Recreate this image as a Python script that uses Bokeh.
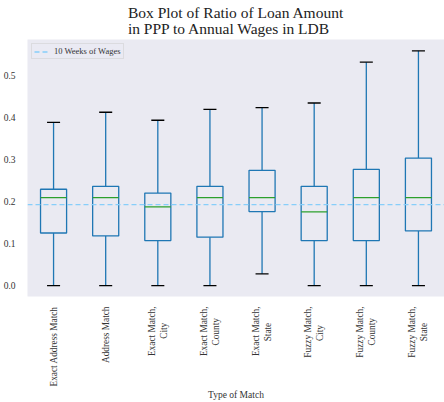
from bokeh.plotting import figure
from bokeh.models import FixedTicker, Range1d, Legend, LegendItem
from bokeh.embed import file_html
from bokeh.resources import INLINE

# Match categories (tick labels); the short second lines are padded so that
# they sit centred under the first line
categories = [
    "Exact Address Match",
    "Address Match",
    "Exact Match,\nCity" + " " * 7,
    "Exact Match,\nCounty" + " " * 5,
    "Exact Match,\nState" + " " * 7,
    "Fuzzy Match,\nCity" + " " * 8,
    "Fuzzy Match,\nCounty" + " " * 5,
    "Fuzzy Match,\nState" + " " * 7,
]

# Box statistics of loan / annual wage ratio
whisker_low = [0.0, 0.0, 0.0, 0.0, 0.028, 0.0, 0.0, 0.0]
q1 = [0.125, 0.118, 0.107, 0.115, 0.176, 0.107, 0.107, 0.130]
median = [0.209, 0.209, 0.187, 0.209, 0.209, 0.175, 0.209, 0.209]
q3 = [0.229, 0.236, 0.220, 0.236, 0.274, 0.236, 0.276, 0.303]
whisker_high = [0.388, 0.412, 0.393, 0.419, 0.423, 0.434, 0.531, 0.558]

# Ten weeks of wages as a share of annual wages
ten_weeks = 10 / 52

FONT = "Liberation Serif"
BOX = "#1f77b4"
MED = "#2ca02c"

pos = list(range(1, len(categories) + 1))
half_box = 0.25
half_cap = 0.125

p = figure(
    width=444, height=402,
    x_range=Range1d(0.5, 8.5), y_range=Range1d(-0.026, 0.585),
    output_backend="svg", toolbar_location=None,
    min_border_left=25, min_border_right=0, min_border_top=0, min_border_bottom=0,
)

p.background_fill_color = "#EAEAF2"
p.border_fill_color = "white"
p.outline_line_color = None
p.grid.grid_line_color = None

p.title.text = "Box Plot of Ratio of Loan Amount\n in PPP to Annual Wages in LDB"
p.title.align = "center"
p.title.text_font = FONT
p.title.text_font_size = "15.5px"
p.title.text_font_style = "normal"
p.title.text_color = "#222222"
p.title.standoff = 4
p.title.text_line_height = 0.95

# Whiskers
p.segment(x0=pos, y0=q3, x1=pos, y1=whisker_high, line_color=BOX, line_width=1.3)
p.segment(x0=pos, y0=whisker_low, x1=pos, y1=q1, line_color=BOX, line_width=1.3)
# Caps
p.segment(x0=[x - half_cap for x in pos], y0=whisker_high,
          x1=[x + half_cap for x in pos], y1=whisker_high, line_color="black", line_width=1.3)
p.segment(x0=[x - half_cap for x in pos], y0=whisker_low,
          x1=[x + half_cap for x in pos], y1=whisker_low, line_color="black", line_width=1.3)
# Boxes
p.quad(left=[x - half_box for x in pos], right=[x + half_box for x in pos],
       bottom=q1, top=q3, fill_color=None, line_color=BOX, line_width=1.3)
# Medians
p.segment(x0=[x - half_box for x in pos], y0=median,
          x1=[x + half_box for x in pos], y1=median, line_color=MED, line_width=1.3)

# Reference line
ref = p.line(x=[0.5, 8.5], y=[ten_weeks, ten_weeks], line_color="#87CEFA",
             line_dash="5 3", line_width=1.3)
legend = Legend(items=[LegendItem(label="10 Weeks of Wages", renderers=[ref])],
                location="top_left")
legend.label_text_font = FONT
legend.label_text_font_size = "8.5px"
legend.label_text_color = "#333333"
legend.background_fill_color = "#EAEAF2"
legend.background_fill_alpha = 0.8
legend.border_line_color = "#cccccc"
legend.border_line_width = 1
legend.margin = 4
legend.padding = 2
legend.spacing = 0
legend.glyph_width = 14
legend.glyph_height = 9
legend.label_standoff = 6
legend.label_height = 9
p.add_layout(legend)

# Axes
p.yaxis.ticker = FixedTicker(ticks=[0.0, 0.1, 0.2, 0.3, 0.4, 0.5])
p.yaxis.major_label_overrides = {0.0: "0.0", 0.1: "0.1", 0.2: "0.2",
                                  0.3: "0.3", 0.4: "0.4", 0.5: "0.5"}
p.xaxis.ticker = FixedTicker(ticks=pos)
p.xaxis.major_label_overrides = {x: c for x, c in zip(pos, categories)}
p.xaxis.major_label_orientation = 1.5708
p.xaxis.axis_label = "Type of Match"

for ax in (p.xaxis, p.yaxis):
    ax.axis_line_color = None
    ax.major_tick_line_color = None
    ax.minor_tick_line_color = None
    ax.major_label_text_font = FONT
    ax.major_label_text_font_size = "9.3px"
    ax.major_label_text_color = "#333333"
    ax.major_label_standoff = 6
    ax.axis_label_text_font = FONT
    ax.axis_label_text_font_size = "9.5px"
    ax.axis_label_text_font_style = "normal"
    ax.axis_label_text_color = "#333333"
p.yaxis.major_label_text_font_size = "9.5px"
p.xaxis.major_label_standoff = 4
p.xaxis.axis_label_standoff = 0

open("out.html", "w").write(file_html(p, INLINE))
